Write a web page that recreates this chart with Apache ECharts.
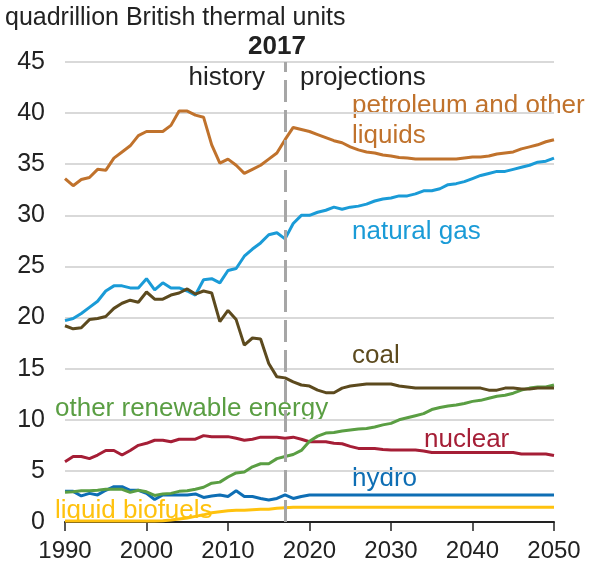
<!DOCTYPE html>
<html>
<head>
<meta charset="utf-8">
<script src="https://cdn.jsdelivr.net/npm/echarts@6/dist/echarts.min.js"></script>
<style>
html,body{margin:0;padding:0;background:#fff;}
#chart{width:589px;height:567px;}
</style>
</head>
<body>
<div id="chart"></div>
<script>
const years = [1990,1991,1992,1993,1994,1995,1996,1997,1998,1999,
  2000,2001,2002,2003,2004,2005,2006,2007,2008,2009,
  2010,2011,2012,2013,2014,2015,2016,2017,2018,2019,
  2020,2021,2022,2023,2024,2025,2026,2027,2028,2029,
  2030,2031,2032,2033,2034,2035,2036,2037,2038,2039,
  2040,2041,2042,2043,2044,2045,2046,2047,2048,2049,2050];

const petroleum = [33.6,32.9,33.5,33.7,34.5,34.4,35.6,36.2,36.8,37.8,
  38.2,38.2,38.2,38.8,40.2,40.2,39.8,39.6,36.9,35.1,
  35.5,34.9,34.1,34.5,34.9,35.5,36.1,37.4,38.6,38.4,
  38.2,37.9,37.6,37.3,37.1,36.7,36.4,36.2,36.1,35.9,
  35.8,35.65,35.6,35.5,35.5,35.5,35.5,35.5,35.5,35.6,
  35.7,35.7,35.8,36.0,36.1,36.2,36.5,36.7,36.9,37.2,37.4];

const naturalGas = [19.7,19.9,20.4,21.0,21.6,22.6,23.1,23.1,22.9,22.9,
  23.8,22.7,23.4,22.9,22.9,22.6,22.2,23.7,23.8,23.4,
  24.6,24.8,26.0,26.7,27.3,28.1,28.3,27.7,29.2,30.0,
  30.0,30.3,30.5,30.8,30.6,30.8,30.9,31.1,31.4,31.6,
  31.7,31.9,31.9,32.1,32.4,32.4,32.6,33.0,33.1,33.3,
  33.6,33.9,34.1,34.3,34.3,34.5,34.7,34.9,35.2,35.3,35.6];

const coal = [19.2,18.9,19.0,19.8,19.9,20.1,20.9,21.4,21.7,21.5,
  22.5,21.8,21.8,22.2,22.4,22.8,22.3,22.6,22.4,19.6,
  20.7,19.8,17.3,18.0,17.9,15.5,14.2,14.1,13.7,13.4,
  13.3,12.9,12.65,12.65,13.1,13.3,13.4,13.5,13.5,13.5,
  13.5,13.3,13.2,13.1,13.1,13.1,13.1,13.1,13.1,13.1,
  13.1,13.1,12.9,12.9,13.1,13.1,13.0,13.0,13.1,13.1,13.1];

const otherRenewable = [2.9,2.95,3.05,3.05,3.1,3.2,3.2,3.2,2.9,3.1,
  2.95,2.6,2.75,2.8,3.0,3.05,3.2,3.4,3.8,3.9,
  4.4,4.8,4.9,5.4,5.7,5.7,6.2,6.4,6.6,7.0,
  7.9,8.4,8.7,8.75,8.9,9.0,9.1,9.15,9.3,9.5,
  9.65,10.0,10.2,10.4,10.6,11.0,11.2,11.35,11.45,11.6,
  11.8,11.9,12.1,12.3,12.4,12.6,12.9,13.1,13.2,13.2,13.4];

const nuclear = [5.9,6.4,6.4,6.2,6.55,7.0,7.0,6.55,7.0,7.5,
  7.7,8.0,8.0,7.85,8.1,8.1,8.1,8.45,8.35,8.35,
  8.35,8.2,8.0,8.1,8.3,8.3,8.3,8.2,8.3,8.1,
  7.85,7.85,7.85,7.7,7.65,7.4,7.2,7.2,7.2,7.1,
  7.05,7.05,7.05,7.05,6.95,6.8,6.8,6.8,6.8,6.8,
  6.8,6.8,6.8,6.8,6.8,6.8,6.65,6.65,6.65,6.65,6.5];

const hydro = [3.0,3.0,2.55,2.8,2.65,3.1,3.45,3.45,3.1,3.1,
  2.8,2.2,2.65,2.65,2.65,2.65,2.75,2.4,2.55,2.65,
  2.5,3.05,2.5,2.5,2.3,2.15,2.3,2.65,2.3,2.5,
  2.65,2.65,2.65,2.65,2.65,2.65,2.65,2.65,2.65,2.65,
  2.65,2.65,2.65,2.65,2.65,2.65,2.65,2.65,2.65,2.65,
  2.65,2.65,2.65,2.65,2.65,2.65,2.65,2.65,2.65,2.65,2.65];

const liquidBiofuels = [0.1,0.1,0.1,0.1,0.1,0.1,0.1,0.1,0.1,0.1,
  0.1,0.1,0.12,0.2,0.3,0.4,0.55,0.7,0.9,1.0,
  1.1,1.15,1.15,1.2,1.25,1.25,1.35,1.4,1.45,1.45,
  1.45,1.45,1.45,1.45,1.45,1.45,1.45,1.45,1.45,1.45,
  1.45,1.45,1.45,1.45,1.45,1.45,1.45,1.45,1.45,1.45,
  1.45,1.45,1.45,1.45,1.45,1.45,1.45,1.45,1.45,1.45,1.45];

const yTicks = [0,5,10,15,20,25,30,35,40,45];
const xTicks = [1990,2000,2010,2020,2030,2040,2050];
const dividerYear = 2017;

const FONT = '"Liberation Sans", Arial, sans-serif';
const colors = {
  petroleum: '#C0722C',
  gas: '#1A9BD7',
  coal: '#5C4A1E',
  renew: '#5A9E43',
  nuclear: '#A51E36',
  hydro: '#0E6EB4',
  bio: '#FFC20E'
};

function pairs(vals){ return years.map((y,i)=>[y, vals[i]]); }
function line(name, vals, color, extra){
  return Object.assign({
    name, type:'line', data: pairs(vals), showSymbol:false, symbol:'none',
    lineStyle:{color, width:3}, itemStyle:{color}, animation:false, silent:true
  }, extra||{});
}

const chart = echarts.init(document.getElementById('chart'), null, {renderer:'canvas'});
function txt(text, x, y, color, size, weight, align){
  return {type:'text', x, y, style:{text, fill:color, font:(weight||'normal')+' '+(size||26)+'px '+FONT, textAlign:align||'left', textVerticalAlign:'middle'}};
}
chart.setOption({
  animation:false,
  grid:{left:65,right:35,top:62,bottom:45},
  xAxis:{type:'value',min:xTicks[0],max:xTicks[xTicks.length-1],interval:10,
    axisLine:{show:true,lineStyle:{color:'#222',width:2}},
    axisTick:{show:true,length:9,lineStyle:{color:'#222',width:1.5}},
    axisLabel:{fontSize:24,color:'#222',margin:17,fontFamily:FONT,formatter:v=>String(v)},
    splitLine:{show:false}},
  yAxis:{type:'value',min:yTicks[0],max:yTicks[yTicks.length-1],interval:5,
    axisLine:{show:false},axisTick:{show:false},
    axisLabel:{fontSize:25,color:'#222',margin:20,fontFamily:FONT},
    splitLine:{show:true,lineStyle:{color:'#D9D9D9',width:2}}},
  series:[
    line('liquid biofuels', liquidBiofuels, colors.bio),
    line('hydro', hydro, colors.hydro),
    line('nuclear', nuclear, colors.nuclear),
    line('other renewable energy', otherRenewable, colors.renew),
    line('natural gas', naturalGas, colors.gas),
    line('coal', coal, colors.coal),
    line('petroleum and other liquids', petroleum, colors.petroleum, {
      markLine:{silent:true,symbol:['none','none'],animation:false,
        lineStyle:{color:'#A6A6A6',width:3,type:[22,8]},
        label:{show:false},
        data:[{xAxis:dividerYear}]}
    })
  ],
  graphic:[
    txt('quadrillion British thermal units', 5, 18, '#222', 25),
    txt(String(dividerYear), 277, 47, '#222', 26, 'bold', 'center'),
    txt('history', 265, 78, '#222', 26, 'normal', 'right'),
    txt('projections', 300, 78, '#222', 26),
    txt('petroleum and other', 352, 106, colors.petroleum, 26),
    txt('liquids', 352, 136, colors.petroleum, 26),
    txt('natural gas', 352, 232, colors.gas, 26),
    txt('coal', 352, 356, colors.coal, 26),
    txt('other renewable energy', 55, 409, colors.renew, 26),
    txt('nuclear', 424, 440, colors.nuclear, 26),
    txt('hydro', 352, 479, colors.hydro, 26),
    txt('liquid biofuels', 55, 511, colors.bio, 26)
  ]
});
</script>
</body>
</html>
